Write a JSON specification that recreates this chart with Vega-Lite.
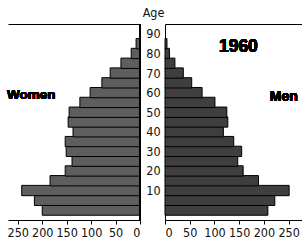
{
  "$schema": "https://vega.github.io/schema/vega-lite/v6.json",
  "padding": {"left": 7, "top": 6, "right": 0, "bottom": 0},
  "datasets": {
    "pyramid": [
      {"age": 0, "women": 200, "men": 208},
      {"age": 5, "women": 216, "men": 222},
      {"age": 10, "women": 242, "men": 251},
      {"age": 15, "women": 184, "men": 189},
      {"age": 20, "women": 153, "men": 158},
      {"age": 25, "women": 139, "men": 147},
      {"age": 30, "women": 151, "men": 155},
      {"age": 35, "women": 153, "men": 139},
      {"age": 40, "women": 137, "men": 118},
      {"age": 45, "women": 147, "men": 127},
      {"age": 50, "women": 145, "men": 125},
      {"age": 55, "women": 123, "men": 101},
      {"age": 60, "women": 102, "men": 75},
      {"age": 65, "women": 78, "men": 54},
      {"age": 70, "women": 61, "men": 37},
      {"age": 75, "women": 39, "men": 20},
      {"age": 80, "women": 18, "men": 9},
      {"age": 85, "women": 8, "men": 4}
    ]
  },
  "hconcat": [
    {
      "width": 132,
      "height": 196,
      "data": {"name": "pyramid"},
      "layer": [
        {
          "mark": {"type": "bar", "orient": "horizontal", "height": 10.3, "fill": "#5e5e5e", "stroke": "#000", "strokeWidth": 1},
          "encoding": {
            "x": {"field": "women", "type": "quantitative",
              "scale": {"domain": [0, 270], "reverse": true, "nice": false},
              "axis": {"orient": "bottom", "values": [0, 50, 100, 150, 200, 250], "title": null, "grid": false, "tickSize": 4, "labelPadding": 2}},
            "y": {"field": "age", "type": "quantitative",
              "scale": {"domain": [-2.5, 92.5], "nice": false, "zero": false},
              "axis": {"orient": "right", "labels": false, "ticks": false, "grid": false, "title": null}}
          }
        },
        {
          "mark": {"type": "rule", "color": "#000", "strokeWidth": 1},
          "encoding": {
            "x": {"datum": 0, "type": "quantitative", "axis": null}
          }
        },
        {
          "mark": {"type": "text", "text": "Women", "align": "left", "baseline": "alphabetic", "font": "Liberation Sans", "fontWeight": "bold", "fontSize": 13.5, "color": "#000"},
          "encoding": {
            "x": {"datum": 272, "type": "quantitative",
              "axis": {"orient": "top", "labels": false, "ticks": false, "title": null, "grid": false}},
            "y": {"datum": 57, "type": "quantitative", "axis": null}
          }
        }
      ],
      "resolve": {"axis": {"x": "independent", "y": "independent"}}
    },
    {
      "width": 137,
      "height": 196,
      "data": {"name": "pyramid"},
      "layer": [
        {
          "mark": {"type": "bar", "orient": "horizontal", "height": 10.3, "fill": "#3f3f3f", "stroke": "#000", "strokeWidth": 1},
          "encoding": {
            "x": {"field": "men", "type": "quantitative",
              "scale": {"domain": [0, 277], "nice": false},
              "axis": {"orient": "bottom", "values": [0, 50, 100, 150, 200, 250], "title": null, "grid": false, "tickSize": 4, "labelPadding": 2}},
            "y": {"field": "age", "type": "quantitative",
              "scale": {"domain": [-2.5, 92.5], "nice": false, "zero": false},
              "axis": {"orient": "left", "values": [10, 20, 30, 40, 50, 60, 70, 80, 90], "ticks": false, "grid": false,
                "title": "Age", "titleAngle": 0, "titleX": -12, "titleY": -8, "titleAlign": "center", "titleBaseline": "alphabetic",
                "labelAlign": "center", "labelPadding": 12, "labelOverlap": false}}
          }
        },
        {
          "mark": {"type": "text", "text": "Men", "align": "left", "baseline": "alphabetic", "font": "Liberation Sans", "fontWeight": "bold", "fontSize": 14, "color": "#000"},
          "encoding": {
            "x": {"datum": 212, "type": "quantitative",
              "axis": {"orient": "top", "labels": false, "ticks": false, "title": null, "grid": false}},
            "y": {"datum": 55.9, "type": "quantitative", "axis": null}
          }
        },
        {
          "mark": {"type": "text", "text": "1960", "align": "left", "baseline": "alphabetic", "font": "Liberation Sans", "fontWeight": "bold", "fontSize": 17.5, "color": "#000"},
          "encoding": {
            "x": {"datum": 109, "type": "quantitative", "axis": null},
            "y": {"datum": 81, "type": "quantitative", "axis": null}
          }
        }
      ],
      "resolve": {"axis": {"x": "independent", "y": "independent"}}
    }
  ],
  "spacing": 25,
  "bounds": "flush",
  "config": {
    "view": {"stroke": null},
    "axis": {
      "labelFont": "DejaVu Sans Condensed, sans-serif",
      "labelFontSize": 12.5,
      "labelColor": "#111",
      "labelOverlap": false,
      "titleFont": "DejaVu Sans Condensed, sans-serif",
      "titleFontSize": 12.5,
      "titleFontWeight": "normal",
      "titleColor": "#111",
      "domainColor": "#000",
      "domainWidth": 1,
      "tickColor": "#000"
    }
  }
}
